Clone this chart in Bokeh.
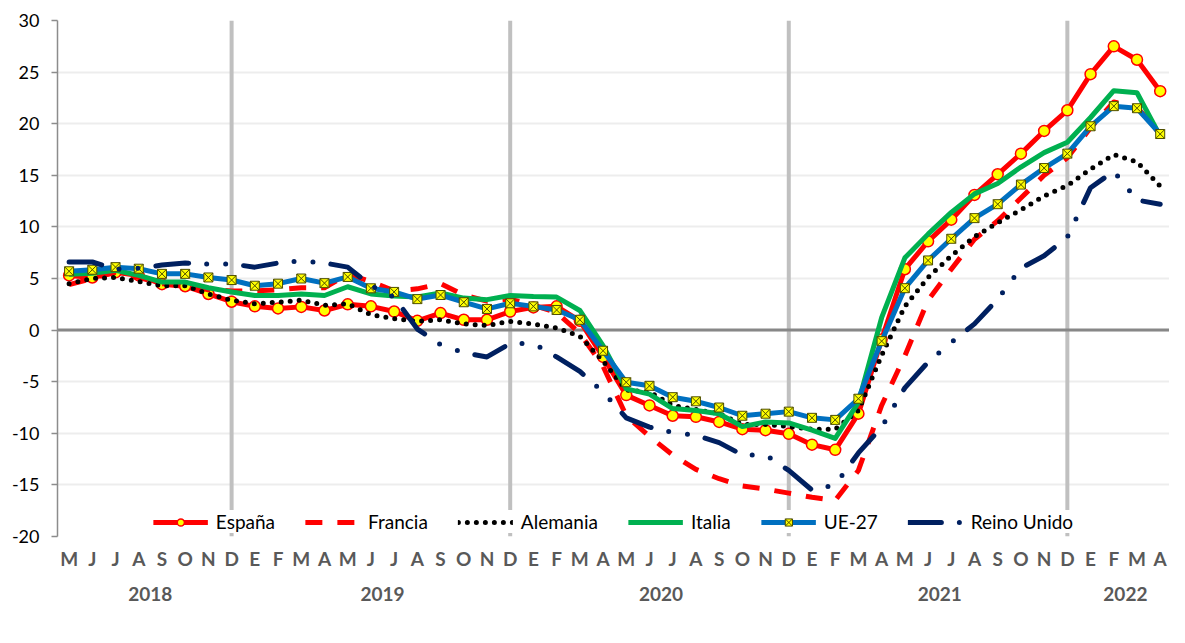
from bokeh.plotting import figure
from bokeh.models import Span, FixedTicker, LinearAxis, Legend, LegendItem, Range1d
from bokeh.embed import file_html
from bokeh.resources import INLINE

months = ["M", "J", "J", "A", "S", "O", "N", "D",
          "E", "F", "M", "A", "M", "J", "J", "A", "S", "O", "N", "D",
          "E", "F", "M", "A", "M", "J", "J", "A", "S", "O", "N", "D",
          "E", "F", "M", "A", "M", "J", "J", "A", "S", "O", "N", "D",
          "E", "F", "M", "A"]
years = ["2018", "2019", "2020", "2021", "2022"]
year_centers = [3.5, 13.5, 25.5, 37.5, 45.5]

espana = [5.3, 5.1, 5.6, 5.3, 4.45, 4.25, 3.5, 2.75, 2.3, 2.1, 2.25, 1.9,
          2.5, 2.3, 1.8, 0.9, 1.65, 1.0, 1.0, 1.8, 2.2, 2.3, 0.9, -2.6,
          -6.3, -7.3, -8.3, -8.4, -8.9, -9.6, -9.7, -10.05, -11.1, -11.6, -8.1, -0.9,
          5.9, 8.6, 10.7, 13.1, 15.1, 17.1, 19.3, 21.3, 24.8, 27.5, 26.2, 23.15]
francia = [4.4, 5.0, 5.6, 5.1, 4.5, 4.5, 3.9, 3.8, 3.8, 3.9, 4.1, 4.1,
           5.4, 4.7, 3.8, 4.0, 4.5, 3.4, 2.8, 3.0, 2.4, 1.7, -0.3, -3.5,
           -8.3, -10.3, -12.1, -13.5, -14.4, -15.1, -15.4, -15.8, -16.2, -16.5, -13.6, -7.3,
           -2.5, 2.9, 5.9, 8.8, 10.6, 12.8, 15.0, 16.7, 19.6, 22.1, 21.6, 19.0]
alemania = [4.5, 5.0, 5.1, 4.7, 4.3, 4.3, 3.5, 2.9, 2.55, 2.7, 2.9, 2.4,
            2.55, 1.5, 1.1, 0.85, 1.0, 0.6, 0.45, 0.85, 0.6, 0.2, -0.6, -3.0,
            -5.8, -6.0, -7.3, -7.7, -8.1, -9.15, -9.15, -9.35, -9.6, -9.6, -7.8, -2.45,
            2.3, 5.1, 7.2, 9.05, 10.4, 11.65, 13.0, 14.0, 15.6, 17.0, 16.3, 13.95]
italia = [5.4, 5.5, 5.8, 5.3, 4.65, 4.65, 4.1, 3.7, 3.35, 3.35, 3.5, 3.35,
          4.2, 3.5, 3.3, 3.2, 3.6, 3.1, 2.95, 3.35, 3.25, 3.2, 1.9, -1.5,
          -5.7, -6.2, -7.6, -7.8, -8.1, -9.35, -8.9, -9.0, -9.7, -10.5, -7.0, 1.2,
          7.0, 9.3, 11.4, 13.2, 14.2, 15.8, 17.2, 18.2, 20.6, 23.2, 23.0, 18.8]
ue27 = [5.7, 5.85, 6.1, 5.95, 5.45, 5.45, 5.1, 4.85, 4.3, 4.5, 5.0, 4.55,
        5.15, 4.05, 3.7, 3.0, 3.4, 2.7, 2.05, 2.6, 2.3, 1.95, 1.0, -2.0,
        -5.05, -5.4, -6.5, -6.9, -7.5, -8.3, -8.1, -7.9, -8.5, -8.7, -6.65, -1.07,
        4.06, 6.75, 8.85, 10.85, 12.2, 14.1, 15.7, 17.1, 19.75, 21.7, 21.5, 19.0]
reino_unido = [6.6, 6.6, 5.9, 6.0, 6.3, 6.5, 6.4, 6.4, 6.1, 6.5, 6.7, 6.5,
               6.1, 4.3, 3.2, 0.1, -1.4, -2.2, -2.6, -1.3, -1.3, -2.6, -4.0, -6.0,
               -8.5, -9.4, -9.9, -10.2, -10.9, -12.1, -12.1, -13.6, -15.5, -15.0, -11.9, -9.4,
               -5.6, -3.1, -1.2, 0.6, 3.0, 6.0, 7.2, 9.0, 13.8, 15.4, 12.6, 12.2]

x = list(range(len(months)))
dec_idx = [i for i, m in enumerate(months) if m == "D"]
y_ticks = list(range(-20, 31, 5))

FONT = "Lato"

p = figure(frame_width=1112, frame_height=516, x_range=Range1d(-0.5, 47.4), y_range=Range1d(-20, 30),
           output_backend="svg", toolbar_location=None,
           min_border_left=57, min_border_right=0, min_border_top=20, min_border_bottom=0)
p.outline_line_color = None
p.background_fill_color = "white"

# y axis
p.yaxis.ticker = FixedTicker(ticks=y_ticks)
p.yaxis.major_label_overrides = {t: str(t) for t in y_ticks}
p.yaxis.axis_line_color = "#8c8c8c"
p.yaxis.axis_line_width = 1.5
p.yaxis.major_tick_line_color = "#8c8c8c"
p.yaxis.major_tick_line_width = 1.5
p.yaxis.major_tick_out = 6
p.yaxis.major_tick_in = 0
p.yaxis.minor_tick_line_color = None
p.yaxis.major_label_text_font = FONT
p.yaxis.major_label_text_font_size = "18px"
p.yaxis.major_label_text_color = "black"
p.yaxis.major_label_standoff = 12

# month axis
p.xaxis.ticker = FixedTicker(ticks=x)
p.xaxis.major_label_overrides = {i: m for i, m in enumerate(months)}
p.xaxis.axis_line_color = None
p.xaxis.major_tick_line_color = None
p.xaxis.minor_tick_line_color = None
p.xaxis.major_label_text_font = FONT
p.xaxis.major_label_text_font_size = "19px"
p.xaxis.major_label_text_font_style = "bold"
p.xaxis.major_label_text_color = "#595959"
p.xaxis.major_label_standoff = 4

# year axis
year_axis = LinearAxis(ticker=FixedTicker(ticks=year_centers),
                       major_label_overrides={c: y for c, y in zip(year_centers, years)})
year_axis.axis_line_color = None
year_axis.major_tick_line_color = None
year_axis.minor_tick_line_color = None
year_axis.major_label_text_font = FONT
year_axis.major_label_text_font_size = "19px"
year_axis.major_label_text_font_style = "bold"
year_axis.major_label_text_color = "#595959"
year_axis.major_label_standoff = 8
p.add_layout(year_axis, "below")

# grid
p.xgrid.visible = False
p.ygrid.ticker = FixedTicker(ticks=y_ticks)
p.ygrid.grid_line_color = "#ededed"
p.ygrid.grid_line_width = 2

for d in dec_idx:
    p.add_layout(Span(location=d, dimension="height", line_color="#c0c0c0",
                      line_width=4, level="underlay"))
p.add_layout(Span(location=0, dimension="width", line_color="#878787",
                  line_width=3, level="underlay"))

r_es = p.line(x, espana, line_color="#ff0000", line_width=5, line_join="round")
m_es = p.scatter(x, espana, marker="circle", size=11, fill_color="#ffff00",
                 line_color="#ff0000", line_width=1.5)
r_fr = p.line(x, francia, line_color="#ff0000", line_width=5, line_dash="17 15",
              line_join="round")
r_de = p.line(x, alemania, line_color="black", line_width=5, line_dash="0 9",
              line_cap="round", line_join="round")
r_it = p.line(x, italia, line_color="#00b050", line_width=5, line_join="round")
r_ue = p.line(x, ue27, line_color="#0070c0", line_width=5, line_join="round")
m_ue = p.scatter(x, ue27, marker="square_x", size=9, fill_color="#ffff00",
                 line_color="#4d4d00", line_width=1)
r_uk = p.line(x, reino_unido, line_color="#002060", line_width=5,
              line_dash="33 18 0 19 0 18", line_cap="round", line_join="round")

legend = Legend(items=[
    LegendItem(label="España", renderers=[r_es, m_es]),
    LegendItem(label="Francia", renderers=[r_fr]),
    LegendItem(label="Alemania", renderers=[r_de]),
    LegendItem(label="Italia", renderers=[r_it]),
    LegendItem(label="UE-27", renderers=[r_ue, m_ue]),
    LegendItem(label="Reino Unido", renderers=[r_uk]),
], orientation="horizontal", location="bottom_center",
    glyph_width=55, glyph_height=18, label_height=18,
    label_standoff=8, spacing=30, padding=2, margin=3, border_line_color=None,
    background_fill_color="white", background_fill_alpha=1.0,
    label_text_font=FONT, label_text_font_size="19px",
    label_text_color="black")
p.add_layout(legend, "center")

open("out.html", "w").write(file_html(p, INLINE))
